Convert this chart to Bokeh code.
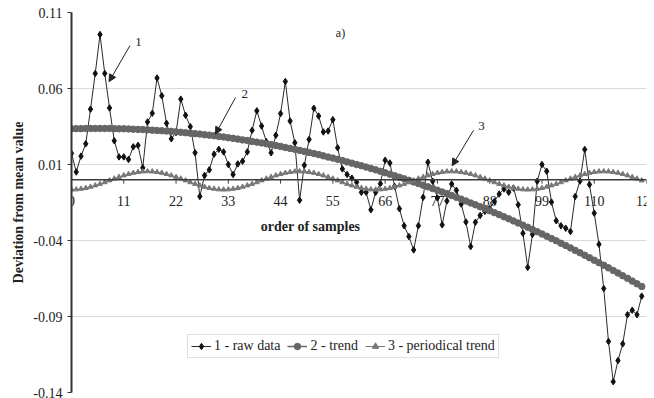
from bokeh.plotting import figure
from bokeh.models import (Span, Label, Arrow, NormalHead, FixedTicker,
                          PrintfTickFormatter, Legend, LegendItem)
from bokeh.core.properties import value
from bokeh.embed import file_html
from bokeh.resources import INLINE

# ---------------- data ----------------
samples = list(range(121))

raw_data = [
    0.0173, 0.0051, 0.0155, 0.0236, 0.0464, 0.0699, 0.0955, 0.0699, 0.0472, 0.0256,
    0.0150, 0.0150, 0.0133, 0.0216, 0.0226, 0.0078, 0.0380, 0.0437, 0.0669, 0.0552,
    0.0371, 0.0269, 0.0310, 0.0530, 0.0424, 0.0349, 0.0177, -0.0110, 0.0028, 0.0065,
    0.0168, 0.0200, 0.0183, 0.0100, 0.0034, 0.0104, 0.0122, 0.0183, 0.0325, 0.0453,
    0.0353, 0.0250, 0.0177, 0.0292, 0.0435, 0.0646, 0.0386, 0.0243, -0.0135, 0.0095,
    0.0265, 0.0470, 0.0419, 0.0314, 0.0320, 0.0395, 0.0210, 0.0071, 0.0034, 0.0010,
    -0.0017, -0.0083, -0.0083, -0.0198, -0.0083, -0.0026, 0.0128, 0.0110, -0.0044, -0.0191,
    -0.0303, -0.0374, -0.0462, -0.0303, -0.0116, 0.0115, -0.0010, -0.0120, -0.0297, -0.0140,
    -0.0028, -0.0070, -0.0160, -0.0278, -0.0440, -0.0280, -0.0235, -0.0208, -0.0190, -0.0143,
    -0.0094, -0.0061, -0.0083, -0.0055, -0.0165, -0.0352, -0.0577, -0.0360, -0.0010, 0.0100,
    0.0056, -0.0147, -0.0270, -0.0303, -0.0319, -0.0341, -0.0110, -0.0009, 0.0199, -0.0032,
    -0.0220, -0.0425, -0.0716, -0.1064, -0.1329, -0.1190, -0.1080, -0.0888, -0.0859, -0.0888,
    -0.0766,
]

trend = [
    0.0335, 0.0336, 0.0336, 0.0337, 0.0337, 0.0337, 0.0337, 0.0337, 0.0337, 0.0336,
    0.0335, 0.0335, 0.0334, 0.0332, 0.0331, 0.0330, 0.0328, 0.0326, 0.0324, 0.0322,
    0.0320, 0.0318, 0.0315, 0.0312, 0.0309, 0.0306, 0.0303, 0.0300, 0.0296, 0.0293,
    0.0289, 0.0285, 0.0281, 0.0276, 0.0272, 0.0267, 0.0262, 0.0258, 0.0252, 0.0247,
    0.0242, 0.0236, 0.0231, 0.0225, 0.0219, 0.0212, 0.0206, 0.0200, 0.0193, 0.0186,
    0.0179, 0.0172, 0.0165, 0.0157, 0.0149, 0.0142, 0.0134, 0.0126, 0.0117, 0.0109,
    0.0100, 0.0092, 0.0083, 0.0074, 0.0065, 0.0055, 0.0046, 0.0036, 0.0026, 0.0016,
    0.0006, -0.0004, -0.0015, -0.0025, -0.0036, -0.0047, -0.0058, -0.0069, -0.0081, -0.0092,
    -0.0104, -0.0116, -0.0128, -0.0140, -0.0153, -0.0165, -0.0178, -0.0191, -0.0204, -0.0217,
    -0.0230, -0.0244, -0.0257, -0.0271, -0.0285, -0.0299, -0.0313, -0.0328, -0.0342, -0.0357,
    -0.0372, -0.0387, -0.0402, -0.0418, -0.0433, -0.0449, -0.0465, -0.0481, -0.0497, -0.0513,
    -0.0530, -0.0546, -0.0563, -0.0580, -0.0597, -0.0614, -0.0632, -0.0649, -0.0667, -0.0685,
    -0.0703,
]

periodical_trend = [
    -0.0065, -0.0064, -0.0060, -0.0055, -0.0047, -0.0038, -0.0028, -0.0017, -0.0005, 0.0007,
    0.0018, 0.0028, 0.0037, 0.0045, 0.0050, 0.0054, 0.0055, 0.0054, 0.0050, 0.0045,
    0.0037, 0.0028, 0.0018, 0.0007, -0.0005, -0.0017, -0.0028, -0.0038, -0.0047, -0.0055,
    -0.0060, -0.0064,
    -0.0065, -0.0064, -0.0060, -0.0055, -0.0047, -0.0038, -0.0028, -0.0017, -0.0005, 0.0007,
    0.0018, 0.0028, 0.0037, 0.0045, 0.0050, 0.0054, 0.0055, 0.0054, 0.0050, 0.0045,
    0.0037, 0.0028, 0.0018, 0.0007, -0.0005, -0.0017, -0.0028, -0.0038, -0.0047, -0.0055,
    -0.0060, -0.0064,
    -0.0065, -0.0064, -0.0060, -0.0055, -0.0047, -0.0038, -0.0028, -0.0017, -0.0005, 0.0007,
    0.0018, 0.0028, 0.0037, 0.0045, 0.0050, 0.0054, 0.0055, 0.0054, 0.0050, 0.0045,
    0.0037, 0.0028, 0.0018, 0.0007, -0.0005, -0.0017, -0.0028, -0.0038, -0.0047, -0.0055,
    -0.0060, -0.0064,
    -0.0065, -0.0064, -0.0060, -0.0055, -0.0047, -0.0038, -0.0028, -0.0017, -0.0005, 0.0007,
    0.0018, 0.0028, 0.0037, 0.0045, 0.0050, 0.0054, 0.0055, 0.0054, 0.0050, 0.0045,
    0.0037, 0.0028, 0.0018, 0.0007, -0.0005,
]

x_ticks = [0, 11, 22, 33, 44, 55, 66, 77, 88, 99, 110, 121]
x_tick_labels = ["0", "11", "22", "33", "44", "55", "66", "77", "88", "99", "110", "121"]
y_ticks = [-0.14, -0.09, -0.04, 0.01, 0.06, 0.11]

series_labels = ["1 - raw data", "2 - trend", "3 - periodical trend"]

FONT = "Liberation Serif"

# ---------------- figure ----------------
p = figure(width=654, height=398, output_backend="svg", toolbar_location=None,
           x_range=(0, 121), y_range=(-0.14, 0.11), x_axis_location=None,
           min_border_left=71, min_border_right=8, min_border_top=12,
           min_border_bottom=6)
p.outline_line_color = None
p.background_fill_color = "white"

yax = p.yaxis[0]
yax.ticker = FixedTicker(ticks=y_ticks)
yax.formatter = PrintfTickFormatter(format="%.2f")
yax.axis_line_color = "#333333"
yax.axis_line_width = 2
yax.major_tick_out = 4
yax.major_tick_in = 0
yax.minor_tick_out = 0
yax.minor_tick_in = 0
yax.major_tick_line_color = "#333333"
yax.major_label_text_font = FONT
yax.major_label_text_font_size = "14px"
yax.major_label_text_color = "#222222"
yax.major_label_standoff = 5
yax.axis_label = "Deviation from mean value"
yax.axis_label_text_font = FONT
yax.axis_label_text_font_style = "bold"
yax.axis_label_text_font_size = "14px"
yax.axis_label_text_color = "#222222"
yax.axis_label_standoff = 4

p.ygrid.ticker = FixedTicker(ticks=y_ticks)
p.ygrid.grid_line_color = "#d9d9d9"
p.ygrid.grid_line_width = 1
p.xgrid.visible = False

# horizontal axis drawn at y = 0
p.add_layout(Span(location=0, dimension="width", line_color="#3a3a3a",
                  line_width=1.5))
p.segment(x0=x_ticks, y0=[0] * len(x_ticks), x1=x_ticks,
          y1=[-0.0026] * len(x_ticks), line_color="#3a3a3a", line_width=1)
p.text(x=x_ticks, y=[0] * len(x_ticks), text=x_tick_labels,
       text_align="center", text_baseline="middle", y_offset=21,
       text_font=value(FONT), text_font_size="14px", text_color="#222222")

# series
r1l = p.line(samples, raw_data, line_color="#2a2a2a", line_width=1)
r1m = p.scatter(samples, raw_data, marker="diamond", size=6.5, color="#111111")
r2l = p.line(samples, trend, line_color="#666666", line_width=1.5)
r2m = p.scatter(samples, trend, marker="circle", size=6.5, color="#666666")
r3l = p.line(samples, periodical_trend, line_color="#787878", line_width=1)
r3m = p.scatter(samples, periodical_trend, marker="triangle", size=5,
                color="#787878")

legend = Legend(items=[
    LegendItem(label=series_labels[0], renderers=[r1l, r1m]),
    LegendItem(label=series_labels[1], renderers=[r2l, r2m]),
    LegendItem(label=series_labels[2], renderers=[r3l, r3m]),
], orientation="horizontal", location=(116, 34))
legend.label_text_font = FONT
legend.label_text_font_size = "14px"
legend.label_text_color = "#222222"
legend.glyph_width = 20
legend.glyph_height = 16
legend.label_height = 16
legend.label_standoff = 3
legend.spacing = 7
legend.padding = 3
legend.margin = 0
legend.border_line_color = "#bfbfbf"
legend.border_line_width = 1
legend.background_fill_color = "white"
legend.background_fill_alpha = 1
p.add_layout(legend)

# annotations
p.add_layout(Label(x=56.6, y=0.0962, text="a)", text_font=FONT,
                   text_font_size="12px", text_align="center",
                   text_baseline="middle", text_color="#222222"))
p.add_layout(Label(x=50.3, y=-0.0308, text="order of samples", text_font=FONT,
                   text_font_size="14px", text_font_style="bold",
                   text_align="center", text_baseline="middle",
                   text_color="#222222"))

for lab, tx, ty, sx, sy, ex, ey in [
    ("1", 13.4, 0.0905, 12.3, 0.0882, 7.9, 0.0645),
    ("2", 35.8, 0.0565, 34.5, 0.0540, 30.3, 0.0300),
    ("3", 85.6, 0.0355, 84.6, 0.0325, 80.1, 0.0092),
]:
    p.add_layout(Label(x=tx, y=ty, text=lab, text_font=FONT,
                       text_font_size="13px", text_align="left",
                       text_baseline="middle", text_color="#222222"))
    p.add_layout(Arrow(x_start=sx, y_start=sy, x_end=ex, y_end=ey,
                       line_color="#222222", line_width=1,
                       end=NormalHead(size=7, fill_color="#222222",
                                      line_color="#222222")))

open("out.html", "w").write(file_html(p, INLINE))
